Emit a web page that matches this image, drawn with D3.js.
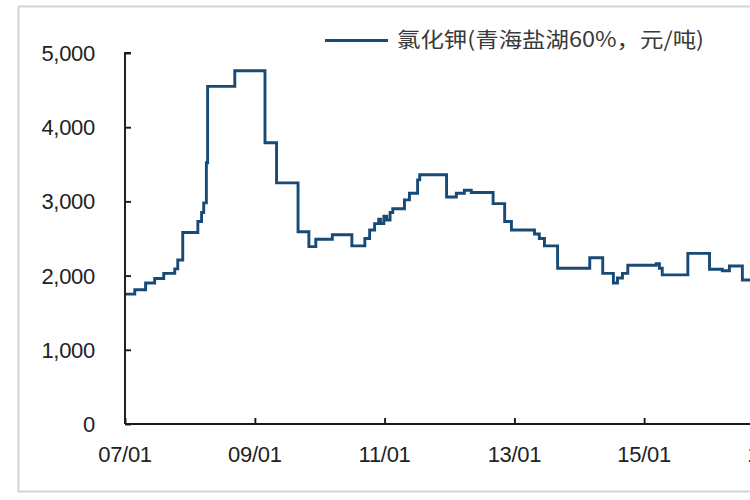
<!DOCTYPE html>
<html>
<head>
<meta charset="utf-8">
<script src="https://cdn.jsdelivr.net/npm/d3@7/dist/d3.min.js"></script>
<style>
  html, body { margin: 0; padding: 0; background: #ffffff; }
  svg { display: block; }
</style>
</head>
<body>
<svg id="chart" width="750" height="500"></svg>
<script>
// ---- data ----
const seriesName = "氯化钾(青海盐湖60%，元/吨)";
const dates = [
  "2007-01-01","2007-02-25","2007-04-27","2007-06-17","2007-08-07","2007-10-08","2007-10-25","2007-11-22",
  "2008-02-15","2008-03-07","2008-03-19","2008-04-03","2008-04-10","2008-09-10",
  "2009-02-27","2009-05-03","2009-09-01","2009-11-01","2009-12-10",
  "2010-03-13","2010-07-01","2010-09-12","2010-10-09","2010-11-06","2010-11-29","2010-12-09","2010-12-28",
  "2011-01-13","2011-02-01","2011-02-16","2011-04-23","2011-05-21","2011-07-06","2011-07-18","2011-12-16",
  "2012-02-09","2012-03-25","2012-05-03","2012-09-03","2012-11-07","2012-12-15",
  "2013-04-24","2013-05-21","2013-06-19","2013-09-01",
  "2014-03-01","2014-05-13","2014-07-12","2014-08-04","2014-09-01","2014-10-01",
  "2015-03-10","2015-03-28","2015-04-13","2015-09-04",
  "2016-01-04","2016-03-16","2016-04-25","2016-07-07","2016-10-01"
];
const prices = [
  1750,1810,1900,1960,2030,2090,2210,2580,
  2730,2850,2980,3520,4550,4760,
  3790,3250,2590,2390,2490,
  2550,2400,2500,2615,2700,2760,2700,2800,
  2750,2850,2900,3020,3110,3290,3360,3060,
  3110,3150,3120,2970,2730,2615,
  2560,2500,2400,2100,
  2240,2030,1900,1967,2030,2140,
  2160,2100,2010,2300,
  2085,2066,2130,1940,1940
];
const xTickDates = ["2007-01-01","2009-01-01","2011-01-01","2013-01-01","2015-01-01","2017-01-01"];
const xTickLabels = ["07/01","09/01","11/01","13/01","15/01","17/01"];
const yTicks = [0, 1000, 2000, 3000, 4000, 5000];

// ---- chart ----
const parse = d3.timeParse("%Y-%m-%d");
const data = dates.map((d, i) => ({ date: parse(d), value: prices[i] }));

const svg = d3.select("#chart");
const W = 750, H = 500;

// outer light frame (right side is cut off in the reference)
svg.append("path")
  .attr("d", `M${W + 5},6.5 H18.5 V491.5 H${W + 5}`)
  .attr("fill", "none")
  .attr("stroke", "#d4d4d4")
  .attr("stroke-width", 2);

const x0 = 125, y0 = 424, yTop = 53;
const x = d3.scaleTime()
  .domain([parse("2007-01-01"), parse("2017-01-01")])
  .range([x0, x0 + 5 * 129.8]);
const y = d3.scaleLinear().domain([0, 5000]).range([y0, yTop]);

const line = d3.line()
  .x(d => x(d.date))
  .y(d => y(d.value))
  .curve(d3.curveStepAfter);

svg.append("path")
  .datum(data)
  .attr("d", line)
  .attr("fill", "none")
  .attr("stroke", "#174a76")
  .attr("stroke-width", 2.9)
  .attr("stroke-linejoin", "miter");

// y axis
const yAxis = d3.axisRight(y)
  .tickValues(yTicks)
  .tickSize(6)
  .tickFormat("");
const gy = svg.append("g").attr("transform", `translate(${x0},0)`).call(yAxis);
gy.select(".domain").attr("d", `M6,${yTop}H0V${y0}`);
gy.selectAll("path,line").attr("stroke", "#1a1a1a").attr("stroke-width", 1.9);

svg.append("g").selectAll("text")
  .data(yTicks)
  .join("text")
  .attr("x", 95)
  .attr("y", d => y(d))
  .attr("dy", "0.36em")
  .attr("text-anchor", "end")
  .attr("font-family", "Liberation Sans, Arial, sans-serif")
  .attr("font-size", 22)
  .attr("letter-spacing", "-0.3")
  .attr("fill", "#222222")
  .text(d => d3.format(",")(d));

// x axis
const xAxis = d3.axisTop(x)
  .tickValues(xTickDates.map(parse))
  .tickSize(6)
  .tickFormat("");
const gx = svg.append("g").attr("transform", `translate(0,${y0})`).call(xAxis);
gx.select(".domain").attr("d", `M${x0},0H${W + 60}`);
gx.selectAll("path,line").attr("stroke", "#1a1a1a").attr("stroke-width", 1.9);

svg.append("g").selectAll("text")
  .data(xTickDates)
  .join("text")
  .attr("x", d => x(parse(d)))
  .attr("y", 462)
  .attr("text-anchor", "middle")
  .attr("font-family", "Liberation Sans, Arial, sans-serif")
  .attr("font-size", 22)
  .attr("letter-spacing", "-0.3")
  .attr("fill", "#222222")
  .text((d, i) => xTickLabels[i]);

// legend
svg.append("line")
  .attr("x1", 325).attr("x2", 388)
  .attr("y1", 40.5).attr("y2", 40.5)
  .attr("stroke", "#174a76")
  .attr("stroke-width", 2.9);
svg.append("text")
  .attr("x", 397)
  .attr("y", 47)
  .attr("font-family", "Noto Sans CJK SC, sans-serif")
  .attr("font-size", 21)
  .attr("fill", "#3a3a3a")
  .attr("textLength", 307)
  .attr("lengthAdjust", "spacingAndGlyphs")
  .text(seriesName);
</script>
</body>
</html>
